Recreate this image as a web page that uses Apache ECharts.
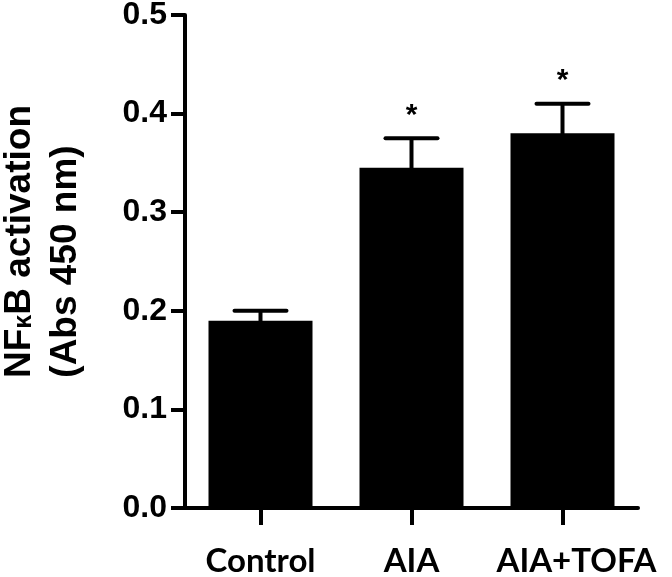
<!DOCTYPE html>
<html>
<head>
<meta charset="utf-8">
<style>
  html, body { margin: 0; padding: 0; background: #ffffff; }
  #chart { width: 672px; height: 577px; }
</style>
<script src="https://cdn.jsdelivr.net/npm/echarts@6/dist/echarts.min.js"></script>
</head>
<body>
<div id="chart"></div>
<script>
const categories = ['Control', 'AIA', 'AIA+TOFA'];
const means = [0.19, 0.345, 0.38];
const errors = [0.01, 0.03, 0.03];
const marks = ['', '*', '*'];
const yTicks = [0, 0.1, 0.2, 0.3, 0.4, 0.5];

const chart = echarts.init(document.getElementById('chart'), null, { renderer: 'canvas' });

const errData = categories.map((c, i) => [i, means[i], errors[i]]);

const titleFont = "'Liberation Sans', Arial, sans-serif";
const catLabelStyle = { fontFamily: 'Lato', fontWeight: 'bold', fontSize: 33, color: '#000' };

const option = {
  backgroundColor: '#ffffff',
  animation: false,
  grid: { left: 185, right: 34, top: 15, bottom: 69, containLabel: false, outerBoundsMode: 'none' },
  xAxis: {
    type: 'category',
    data: categories,
    axisLine: { show: true, lineStyle: { color: '#000', width: 4 } },
    axisTick: { show: true, alignWithLabel: true, length: 17, lineStyle: { color: '#000', width: 4 } },
    axisLabel: {
      interval: 0, hideOverlap: false,
      color: '#000', fontFamily: 'Lato', fontWeight: 'bold', fontSize: 33, margin: 37,
      formatter: (v, i) => (i === 2 ? '{s|' + v + '}' : '{c|' + v + '}'),
      rich: {
        c: catLabelStyle,
        s: Object.assign({}, catLabelStyle, { padding: [0, 0, 0, 28] })
      }
    },
    splitLine: { show: false }
  },
  yAxis: {
    type: 'value',
    min: yTicks[0],
    max: yTicks[yTicks.length - 1],
    interval: 0.1,
    axisLine: { show: true, lineStyle: { color: '#000', width: 4 } },
    axisTick: { show: true, length: 14, lineStyle: { color: '#000', width: 4 } },
    axisLabel: {
      color: '#000', fontFamily: 'Liberation Sans', fontWeight: 'bold', fontSize: 32, margin: 18,
      formatter: v => v.toFixed(1)
    },
    splitLine: { show: false },
    name: '{a1|NF}{k|κ}{a|B activation}\n{a|(Abs 450 nm)}',
    nameLocation: 'middle',
    nameRotate: 90,
    nameGap: 96,
    nameTextStyle: {
      color: '#000',
      rich: {
        a1: { fontFamily: titleFont, fontWeight: 'bold', fontSize: 37, lineHeight: 46, color: '#000', padding: [0, 0, 0, 40] },
        a: { fontFamily: titleFont, fontWeight: 'bold', fontSize: 37, lineHeight: 46, color: '#000' },
        k: { fontFamily: titleFont, fontWeight: 'bold', fontSize: 25, lineHeight: 46, color: '#000', padding: [8, 0, 0, 0] }
      }
    }
  },
  series: [
    {
      type: 'bar',
      data: means,
      barWidth: 104,
      itemStyle: { color: '#000' },
      z: 2
    },
    {
      type: 'custom',
      data: errData,
      z: 3,
      renderItem: function (params, api) {
        const i = api.value(0);
        const m = api.value(1);
        const e = api.value(2);
        const mark = marks[i];
        const base = api.coord([i, m]);
        const top = api.coord([i, m + e]);
        const children = [
          { type: 'line', shape: { x1: base[0], y1: base[1] + 2, x2: top[0], y2: top[1] }, style: { stroke: '#000', lineWidth: 4 } },
          { type: 'line', shape: { x1: top[0] - 26, y1: top[1], x2: top[0] + 26, y2: top[1] }, style: { stroke: '#000', lineWidth: 4, lineCap: 'round' } }
        ];
        if (mark) {
          children.push({
            type: 'text',
            style: {
              text: mark, x: top[0], y: top[1] - 23,
              align: 'center', verticalAlign: 'middle',
              fontFamily: 'Liberation Sans', fontWeight: 'bold', fontSize: 30, fill: '#000'
            }
          });
        }
        return { type: 'group', children: children };
      }
    }
  ]
};

chart.setOption(option);
</script>
</body>
</html>
